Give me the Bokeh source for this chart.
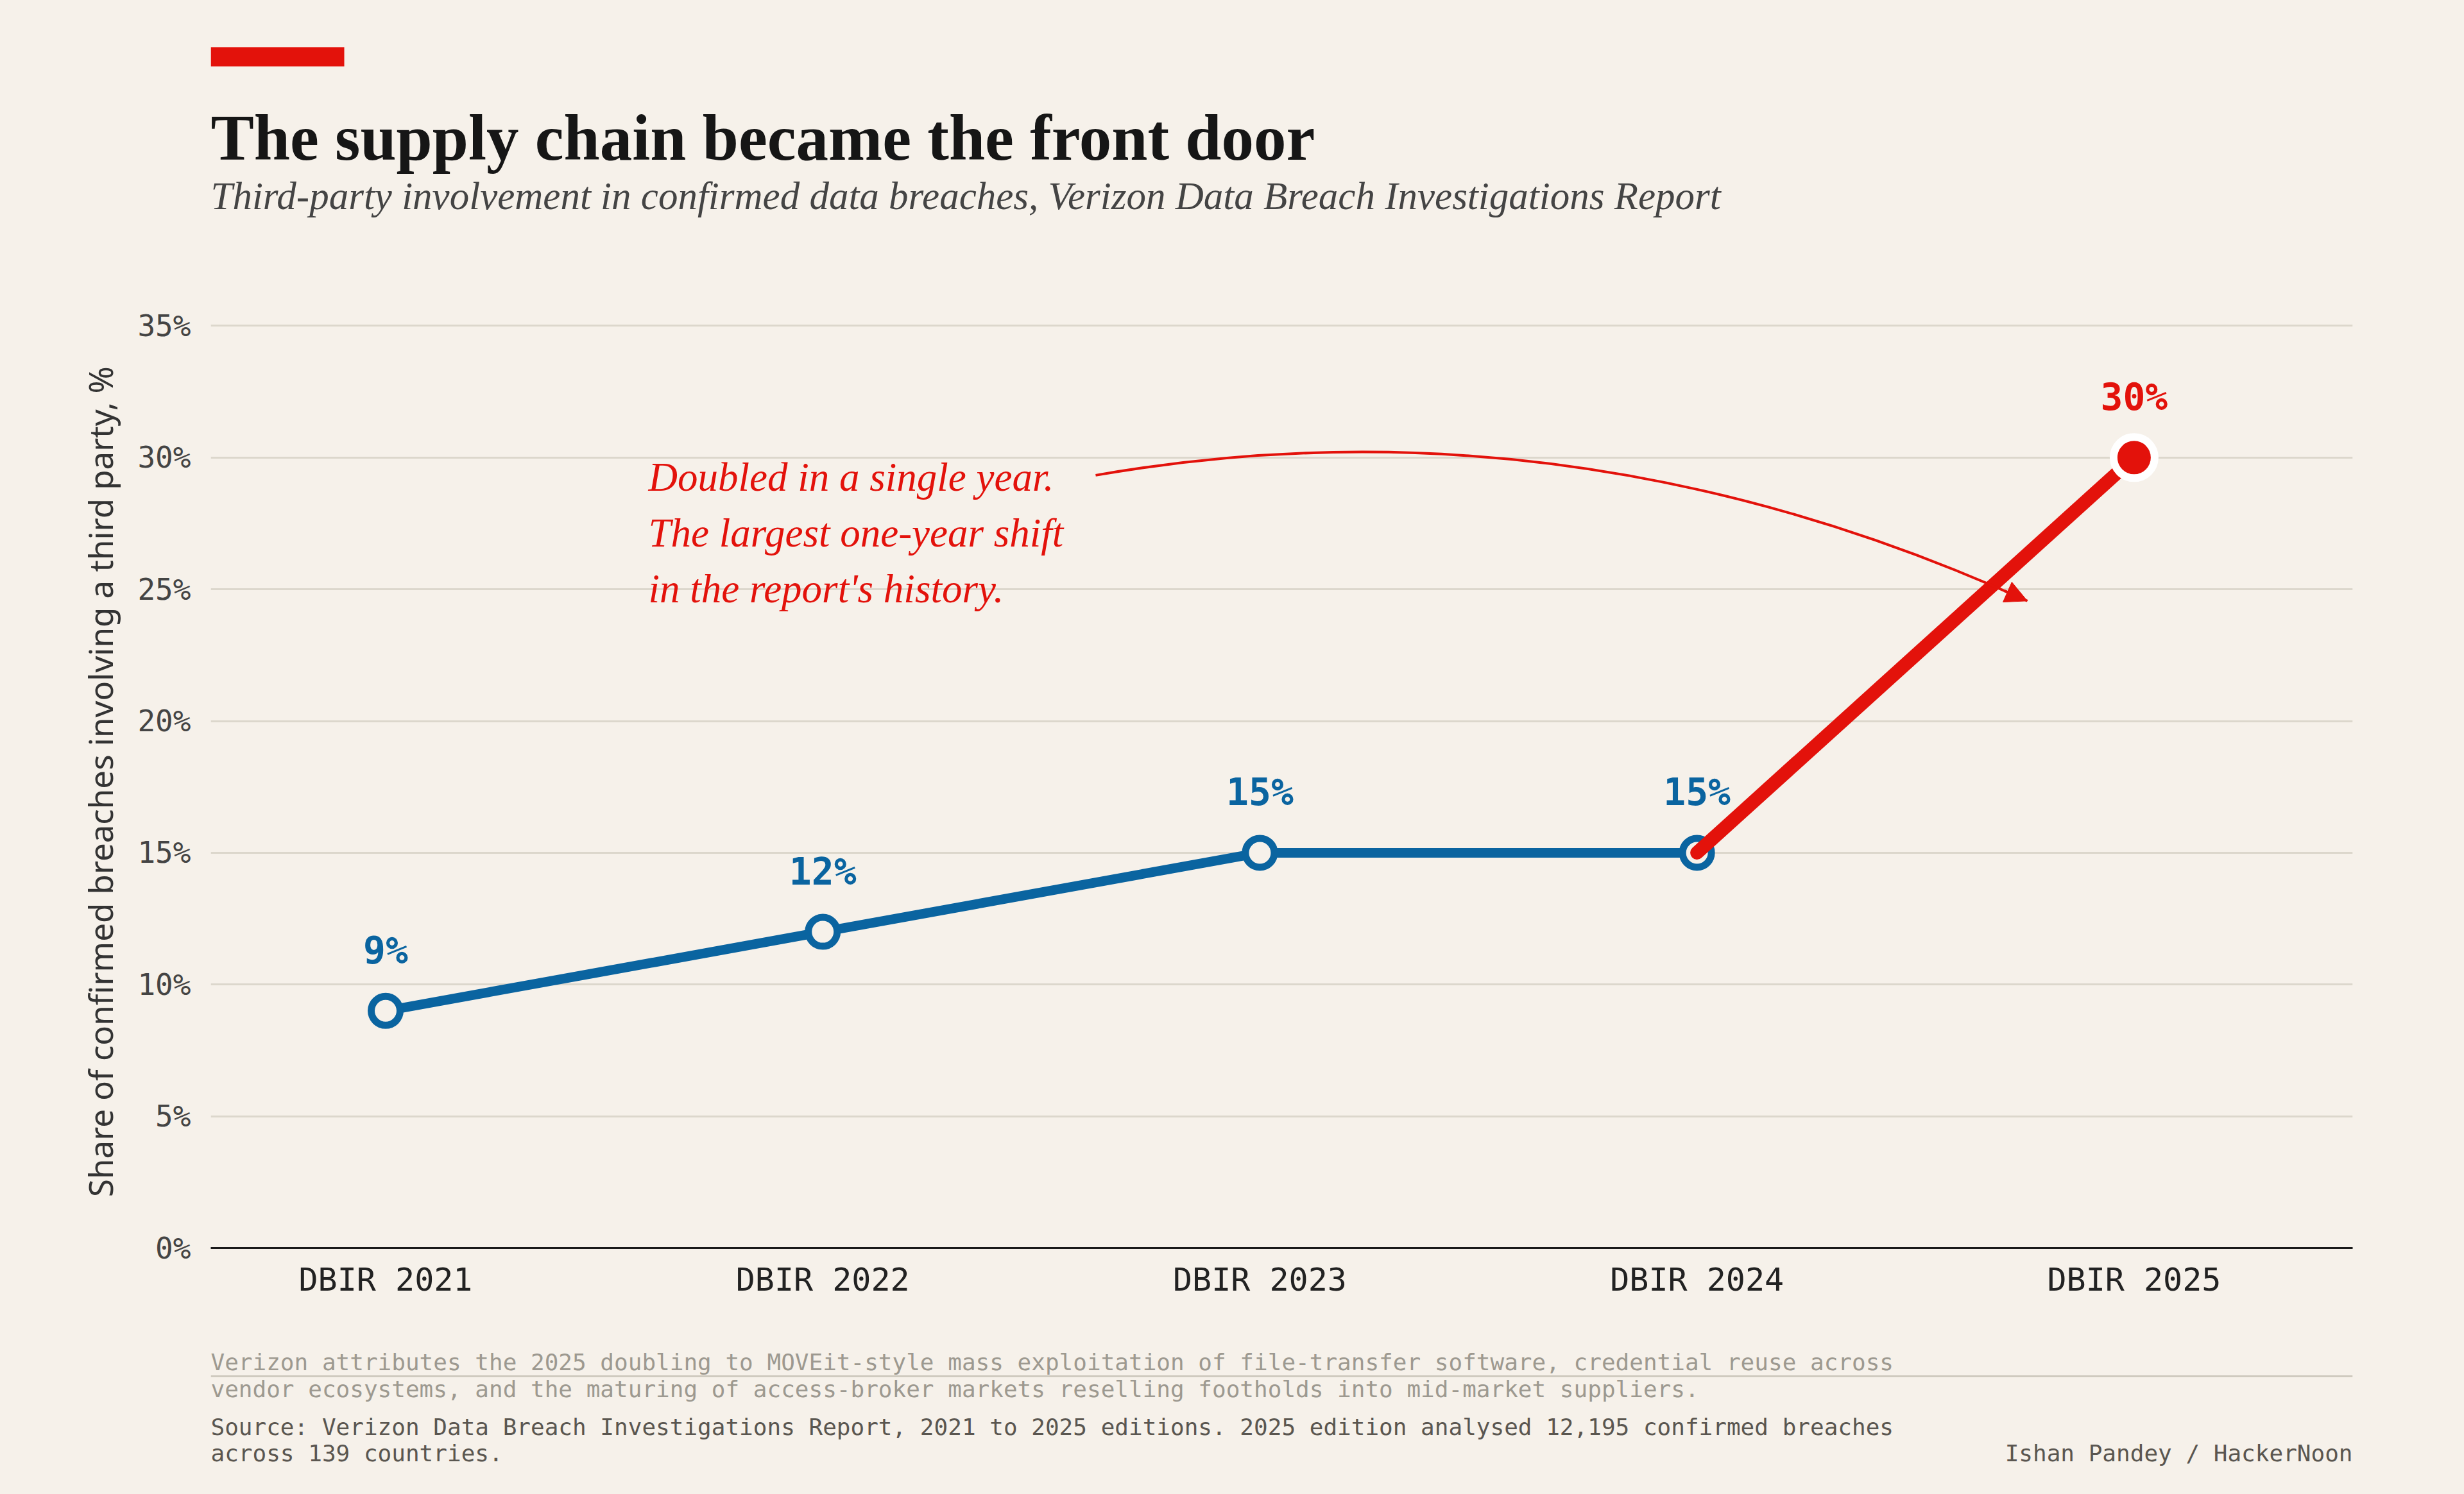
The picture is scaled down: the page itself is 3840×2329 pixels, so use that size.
from bokeh.plotting import figure
from bokeh.layouts import column
from bokeh.models import (Arrow, NormalHead, FixedTicker, PrintfTickFormatter,
                          ColumnDataSource, Range1d)
from bokeh.core.properties import value
from bokeh.embed import file_html
from bokeh.resources import INLINE

# ---- data ----
editions = ["DBIR 2021", "DBIR 2022", "DBIR 2023", "DBIR 2024", "DBIR 2025"]
share = [9, 12, 15, 15, 30]
value_labels = ["9%", "12%", "15%", "15%", "30%"]
y_ticks = [0, 5, 10, 15, 20, 25, 30, 35]

title = "The supply chain became the front door"
subtitle = "Third-party involvement in confirmed data breaches, Verizon Data Breach Investigations Report"
y_label = "Share of confirmed breaches involving a third party, %"
annotation_lines = ["Doubled in a single year.", "The largest one-year shift", "in the report's history."]
note_lines = ["Verizon attributes the 2025 doubling to MOVEit-style mass exploitation of file-transfer software, credential reuse across",
              "vendor ecosystems, and the maturing of access-broker markets reselling footholds into mid-market suppliers."]
source_lines = ["Source: Verizon Data Breach Investigations Report, 2021 to 2025 editions. 2025 edition analysed 12,195 confirmed breaches",
                "across 139 countries."]
credit = "Ishan Pandey / HackerNoon"

# ---- style ----
BG = "#f6f1ea"
BLUE = "#0a64a0"
RED = "#e3120b"
GRID = "#dcd7cc"
SERIF = "Liberation Serif"
MONO = "DejaVu Sans Mono"

W, H = 3840, 2329
HEAD_H = 420          # header strip height
FOOT_TOP = 2095       # footer strip starts here
FL, FR, FT, FB = 328, 3666, 507, 1945   # chart frame (page pixels) for 0..35
X0, X1 = -0.4, 4.5
Y0, Y1 = 0, 35.4
FT_EXT = FB - (FB - FT) * Y1 / 35.0      # frame top including headroom


def X(px):
    return X0 + (px - FL) / (FR - FL) * (X1 - X0)


def Y(py):
    return (FB - py) / (FB - FT) * 35.0


def strip(h):
    f = figure(width=W, height=h, x_range=Range1d(FL, FR), y_range=Range1d(h, 0),
               x_axis_type=None, y_axis_type=None, output_backend="svg",
               toolbar_location=None, min_border_left=FL, min_border_right=W - FR,
               min_border_top=0, min_border_bottom=0)
    f.background_fill_color = BG
    f.border_fill_color = BG
    f.outline_line_color = None
    f.xgrid.visible = False
    f.ygrid.visible = False
    return f


# ---- header ----
hd = strip(HEAD_H)
hd.quad(left=[328], right=[536], top=[73], bottom=[103], fill_color=RED, line_color=None)
hd.text(x=[328], y=[214], text=[title], text_font=value(SERIF), text_font_style="bold",
        text_font_size="101px", text_color="#161616", text_baseline="alphabetic")
hd.text(x=[328], y=[305], text=[subtitle], text_font=value(SERIF), text_font_style="italic",
        text_font_size="61px", text_color="#444444", text_baseline="alphabetic")

# ---- main chart ----
main_h = FOOT_TOP - HEAD_H
idx = list(range(len(editions)))
p = figure(width=W, height=main_h, x_range=Range1d(X0, X1), y_range=Range1d(Y0, Y1),
           output_backend="svg", toolbar_location=None,
           min_border_left=FL, min_border_right=W - FR,
           min_border_top=int(round(FT_EXT - HEAD_H)), min_border_bottom=FOOT_TOP - FB)
p.background_fill_color = BG
p.border_fill_color = BG
p.outline_line_color = None

p.xaxis.ticker = FixedTicker(ticks=idx)
p.xaxis.major_label_overrides = {i: e for i, e in zip(idx, editions)}
p.xaxis.major_label_text_font = MONO
p.xaxis.major_label_text_font_size = "50px"
p.xaxis.major_label_text_color = "#222222"
p.xaxis.major_label_standoff = 14
p.xaxis.major_tick_line_color = None
p.xaxis.minor_tick_line_color = None
p.xaxis.axis_line_color = "#1a1a1a"
p.xaxis.axis_line_width = 3

p.yaxis.ticker = FixedTicker(ticks=y_ticks)
p.yaxis.formatter = PrintfTickFormatter(format="%d%%")
p.yaxis.major_label_text_font = MONO
p.yaxis.major_label_text_font_size = "46px"
p.yaxis.major_label_text_color = "#444444"
p.yaxis.major_label_standoff = 25
p.yaxis.major_tick_line_color = None
p.yaxis.minor_tick_line_color = None
p.yaxis.axis_line_color = None
p.yaxis.axis_label = y_label
p.yaxis.axis_label_text_font = "Noto Sans"
p.yaxis.axis_label_text_font_style = "normal"
p.yaxis.axis_label_text_font_size = "51px"
p.yaxis.axis_label_text_color = "#333333"
p.yaxis.axis_label_standoff = 20

p.xgrid.grid_line_color = None
p.ygrid.grid_line_color = GRID
p.ygrid.grid_line_width = 3

src = ColumnDataSource(dict(x=idx, y=share, lab=value_labels,
                            col=[BLUE, BLUE, BLUE, BLUE, RED]))

p.line(idx[:4], share[:4], line_color=BLUE, line_width=15, line_join="round")
p.scatter(idx[:4], share[:4], size=45, fill_color=BG, line_color=BLUE, line_width=11)
p.line(idx[3:], share[3:], line_color=RED, line_width=21, line_cap="round")
p.scatter(idx[4:], share[4:], size=64, fill_color=RED, line_color="white", line_width=12)

p.text(x="x", y="y", text="lab", source=src, text_color="col",
       text_font=value(MONO), text_font_style="bold", text_font_size="58px",
       text_align="center", text_baseline="middle", y_offset=-94)

# curved annotation arrow
ax0, ay0 = X(1707), Y(740)
acx, acy = X(2444), Y(612)
ax1, ay1 = X(3159), Y(936)
p.quadratic(x0=[ax0], y0=[ay0], x1=[ax1], y1=[ay1], cx=[acx], cy=[acy],
            line_color=RED, line_width=4)
p.add_layout(Arrow(end=NormalHead(size=34, fill_color=RED, line_color=RED, line_width=1),
                   x_start=X(3123), y_start=Y(920), x_end=ax1, y_end=ay1,
                   line_color=RED, line_width=4))

p.text(x=[X(1010)] * 3, y=[Y(743 + 87 * i) for i in range(3)], text=annotation_lines,
       text_font=value(SERIF), text_font_style="italic", text_font_size="63px",
       text_color=RED, text_baseline="alphabetic", text_align="left")

# ---- footer ----
ft = strip(H - FOOT_TOP)
ft.segment(x0=[328], y0=[2145 - FOOT_TOP], x1=[3666], y1=[2145 - FOOT_TOP],
           line_color="#cfcabf", line_width=3)
ft.text(x=[328, 328], y=[2123 - FOOT_TOP, 2165 - FOOT_TOP], text=note_lines,
        text_font=value(MONO), text_font_size="36px", text_color="#9d9990",
        text_baseline="middle")
ft.text(x=[328, 328], y=[2224 - FOOT_TOP, 2265 - FOOT_TOP], text=source_lines,
        text_font=value(MONO), text_font_size="36px", text_color="#5a5650",
        text_baseline="middle")
ft.text(x=[3666], y=[2265 - FOOT_TOP], text=[credit], text_font=value(MONO),
        text_font_size="36px", text_color="#5a5650", text_baseline="middle",
        text_align="right")

layout = column(hd, p, ft, spacing=0)
html = file_html(layout, INLINE)
html = html.replace("<head>", "<head><style>html,body{background:#f6f1ea;margin:0;padding:0}</style>", 1)
open("out.html", "w").write(html)
